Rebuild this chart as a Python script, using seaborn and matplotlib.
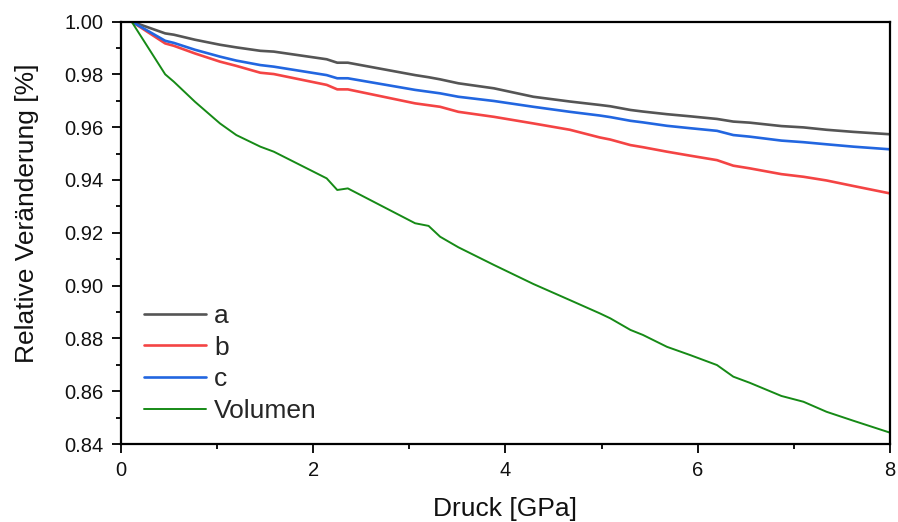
import numpy as np
import pandas as pd
import matplotlib
matplotlib.use("Agg")
import matplotlib.pyplot as plt
import seaborn as sns
from matplotlib.ticker import MultipleLocator, FormatStrFormatter

pressure = [0.11, 0.46, 0.55, 0.77, 1.03, 1.20, 1.45, 1.59, 2.14, 2.25, 2.36, 3.06, 3.20, 3.32,
            3.51, 3.88, 4.29, 4.67, 4.98, 5.09, 5.30, 5.43, 5.68, 5.92, 6.20, 6.37, 6.54, 6.87,
            7.10, 7.34, 7.62, 8.0]
a_vals = [1.0, 0.9955, 0.9950, 0.9931, 0.9912, 0.9902, 0.9889, 0.9886, 0.9857, 0.9844, 0.9844,
          0.9797, 0.9789, 0.9781, 0.9766, 0.9747, 0.9715, 0.9697, 0.9684, 0.9679, 0.9665, 0.9659,
          0.9649, 0.9641, 0.9631, 0.9621, 0.9617, 0.9604, 0.9599, 0.9590, 0.9582, 0.9573]
b_vals = [1.0, 0.9917, 0.9908, 0.9879, 0.9848, 0.9832, 0.9806, 0.9801, 0.9760, 0.9743, 0.9743,
          0.9690, 0.9683, 0.9677, 0.9658, 0.9639, 0.9614, 0.9590, 0.9561, 0.9553, 0.9532, 0.9524,
          0.9507, 0.9492, 0.9475, 0.9454, 0.9444, 0.9422, 0.9412, 0.9398, 0.9377, 0.9349]
c_vals = [1.0, 0.9927, 0.9919, 0.9893, 0.9867, 0.9852, 0.9835, 0.9829, 0.9797, 0.9785, 0.9785,
          0.9741, 0.9734, 0.9728, 0.9715, 0.9699, 0.9677, 0.9658, 0.9644, 0.9638, 0.9624, 0.9618,
          0.9605, 0.9596, 0.9586, 0.9570, 0.9564, 0.9549, 0.9543, 0.9535, 0.9526, 0.9516]
vol_vals = [1.0, 0.9800, 0.9772, 0.9696, 0.9614, 0.9570, 0.9526, 0.9507, 0.9406, 0.9362, 0.9368,
            0.9236, 0.9226, 0.9185, 0.9145, 0.9078, 0.9006, 0.8945, 0.8895, 0.8876, 0.8832, 0.8813,
            0.8768, 0.8737, 0.8699, 0.8655, 0.8632, 0.8582, 0.8560, 0.8522, 0.8488, 0.8443]

series_names = ["a", "b", "c", "Volumen"]
series_colors = ["#555555", "#f44444", "#2266e0", "#168a16"]
series_widths = [1.9, 1.9, 1.9, 1.4]

sns.set_theme(style="white")
plt.rcParams['font.family'] = ['Liberation Sans', 'DejaVu Sans']
plt.rcParams['xtick.labelsize'] = 14.5
plt.rcParams['ytick.labelsize'] = 14.5

fig = plt.figure(figsize=(8.98, 5.22), dpi=100)
ax = fig.add_axes([0.1347, 0.1494, 0.8564, 0.8094])

for name, vals, col, lw in zip(series_names, [a_vals, b_vals, c_vals, vol_vals],
                               series_colors, series_widths):
    df = pd.DataFrame({"Druck": pressure, "Wert": vals})
    sns.lineplot(data=df, x="Druck", y="Wert", ax=ax, color=col, linewidth=lw, label=name)

ax.set_xlim(0, 8)
ax.set_ylim(0.84, 1.00)
ax.xaxis.set_major_locator(MultipleLocator(2))
ax.xaxis.set_minor_locator(MultipleLocator(1))
ax.yaxis.set_major_locator(MultipleLocator(0.02))
ax.yaxis.set_minor_locator(MultipleLocator(0.01))
ax.yaxis.set_major_formatter(FormatStrFormatter('%.2f'))
ax.tick_params(which='major', direction='out', bottom=True, left=True, top=False, right=False,
               color='black', width=1.3, length=6.5, pad=6, labelsize=14.5, labelcolor='#111111')
ax.tick_params(which='minor', direction='out', bottom=True, left=True, top=False, right=False,
               color='black', width=1.3, length=3.6)
for sp in ax.spines.values():
    sp.set_visible(True)
    sp.set_color('black')
    sp.set_linewidth(1.6)

ax.set_xlabel("Druck [GPa]", fontsize=19, color='#111111', va='top')
ax.xaxis.set_label_coords(0.5, -0.125)
ax.set_ylabel("Relative Veränderung [%]", fontsize=19, color='#111111')
ax.yaxis.set_label_coords(-0.106, 0.545)

leg = ax.legend(loc='lower left', bbox_to_anchor=(0.0305, 0.05), frameon=False, fontsize=19,
                handlelength=2.35, handletextpad=0.3, labelspacing=0.29, borderpad=0,
                borderaxespad=0)

fig.savefig("out.png", dpi=100)
